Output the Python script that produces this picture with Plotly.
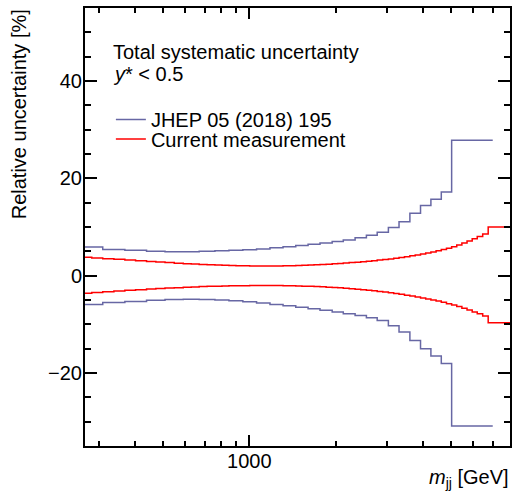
import plotly.graph_objects as go

# JHEP 05 (2018) 195 binning and total systematic uncertainty [%]
jhep_edges = [260, 310, 370, 440, 510, 590, 670, 760, 850, 950, 1060, 1180, 1310, 1450,
              1600, 1760, 1940, 2120, 2330, 2550, 2780, 3040, 3310, 3610, 3930, 4270,
              4640, 5040, 7000]
jhep_up = [5.9, 5.4, 5.2, 5.0, 4.9, 4.9, 5.0, 5.1, 5.2, 5.35, 5.5, 5.75, 5.95, 6.2,
           6.45, 6.7, 7.0, 7.35, 7.8, 8.3, 8.9, 9.9, 11.1, 12.8, 14.4, 15.7, 17.2, 27.8]
jhep_down = [-5.95, -5.5, -5.3, -5.05, -4.9, -4.85, -4.9, -5.0, -5.15, -5.35, -5.6, -5.9,
             -6.2, -6.5, -6.8, -7.1, -7.45, -7.85, -8.2, -8.65, -9.2, -10.3, -11.6,
             -13.3, -15.0, -16.5, -18.05, -30.9]

# Current measurement binning and total systematic uncertainty [%]
cur_edges = [260, 284, 310, 339, 370, 403, 440, 474, 510, 549,
             590, 629, 670, 714, 760, 804, 850, 899, 950, 1003,
             1060, 1118, 1180, 1243, 1310, 1378, 1450, 1523, 1600, 1678,
             1760, 1848, 1940, 2028, 2120, 2222, 2330, 2437, 2550, 2662,
             2780, 2906, 3040, 3172, 3310, 3457, 3610, 3767, 3930, 4096,
             4270, 4451, 4640, 4836, 5040, 5250, 5470, 5700, 5940, 6185,
             6460, 6750, 9000]
cur_up = [3.8, 3.65, 3.5, 3.35, 3.2, 3.05, 2.9, 2.8, 2.68, 2.57,
          2.47, 2.38, 2.3, 2.23, 2.17, 2.12, 2.08, 2.05, 2.03, 2.01,
          2.0, 2.0, 2.0, 2.01, 2.03, 2.06, 2.1, 2.14, 2.19, 2.24,
          2.3, 2.37, 2.44, 2.52, 2.6, 2.69, 2.78, 2.88, 2.98, 3.08,
          3.2, 3.32, 3.45, 3.59, 3.74, 3.9, 4.07, 4.25, 4.45, 4.66,
          4.88, 5.12, 5.38, 5.65, 5.95, 6.3, 6.7, 7.1, 7.6, 8.07,
          8.55, 10.0]
cur_down = [-3.6, -3.45, -3.3, -3.15, -3.0, -2.88, -2.76, -2.65, -2.55, -2.46,
            -2.38, -2.31, -2.25, -2.2, -2.16, -2.12, -2.09, -2.07, -2.05, -2.04,
            -2.03, -2.03, -2.03, -2.04, -2.06, -2.09, -2.12, -2.16, -2.2, -2.25,
            -2.3, -2.36, -2.43, -2.5, -2.58, -2.67, -2.77, -2.88, -3.0, -3.12,
            -3.25, -3.38, -3.52, -3.67, -3.83, -4.0, -4.18, -4.37, -4.57, -4.78,
            -5.0, -5.23, -5.48, -5.75, -6.05, -6.35, -6.7, -7.05, -7.45, -7.85,
            -8.3, -9.7]

x_minor = [300, 400, 500, 600, 700, 800, 900, 2000, 3000, 4000, 5000, 6000, 7000, 8000]

BLUE = "#6767a4"
RED = "#ff0000"
FONT = "Liberation Sans, Arial, Helvetica, sans-serif"

W, H = 513, 494
L, R, T, B = 85, 1, 8, 48
PW, PH = W - L - R, H - T - B


def px_x(p):
    return (p - L) / PW


def px_y(p):
    return (H - B - p) / PH


fig = go.Figure()

fig.add_trace(go.Scatter(x=jhep_edges, y=jhep_up + [jhep_up[-1]], mode="lines",
                         line=dict(color=BLUE, width=1.5, shape="hv"),
                         name="JHEP 05 (2018) 195", legendgroup="jhep",
                         legend="legend", hoverinfo="skip"))
fig.add_trace(go.Scatter(x=jhep_edges, y=jhep_down + [jhep_down[-1]], mode="lines",
                         line=dict(color=BLUE, width=1.5, shape="hv"),
                         name="JHEP 05 (2018) 195", legendgroup="jhep",
                         showlegend=False, hoverinfo="skip"))
fig.add_trace(go.Scatter(x=cur_edges, y=cur_up + [cur_up[-1]], mode="lines",
                         line=dict(color=RED, width=1.5, shape="hv"),
                         name="Current measurement", legendgroup="cur",
                         legend="legend2", hoverinfo="skip"))
fig.add_trace(go.Scatter(x=cur_edges, y=cur_down + [cur_down[-1]], mode="lines",
                         line=dict(color=RED, width=1.5, shape="hv"),
                         name="Current measurement", legendgroup="cur",
                         showlegend=False, hoverinfo="skip"))

axis_common = dict(showline=True, linecolor="black", linewidth=2, mirror="allticks",
                   ticks="inside", tickcolor="black", tickwidth=1.5,
                   showgrid=False, zeroline=False,
                   tickfont=dict(family=FONT, size=20, color="black"))

fig.update_layout(
    width=W, height=H,
    margin=dict(l=L, r=R, t=T, b=B, pad=0),
    paper_bgcolor="white", plot_bgcolor="white",
    font=dict(family=FONT, size=20, color="black"),
    xaxis=dict(type="log", range=[2.4298, 3.905],
               tickmode="array", tickvals=[1000], ticktext=["1000"], ticklen=11,
               ticklabelstandoff=-4,
               minor=dict(tickmode="array", tickvals=x_minor, ticks="inside",
                          ticklen=5, tickcolor="black", tickwidth=1.5),
               **axis_common),
    yaxis=dict(range=[-35, 55], tickmode="linear", tick0=0, dtick=20, ticklen=12,
               ticklabelstandoff=-3,
               minor=dict(tick0=0, dtick=5, ticks="inside", ticklen=6,
                          tickcolor="black", tickwidth=1.5),
               **axis_common),
    legend=dict(x=px_x(111), y=px_y(119.5), xanchor="left", yanchor="middle",
                bgcolor="rgba(0,0,0,0)", font=dict(family=FONT, size=20)),
    legend2=dict(x=px_x(111), y=px_y(139), xanchor="left", yanchor="middle",
                 bgcolor="rgba(0,0,0,0)", font=dict(family=FONT, size=20)),
    annotations=[
        dict(text="Total systematic uncertainty", xref="paper", yref="paper",
             x=px_x(111), y=px_y(52), xanchor="left", yanchor="middle",
             showarrow=False, font=dict(family=FONT, size=20)),
        dict(text="<i>y</i>* < 0.5", xref="paper", yref="paper",
             x=px_x(111), y=px_y(74), xanchor="left", yanchor="middle",
             showarrow=False, font=dict(family=FONT, size=20)),
        dict(text="Relative uncertainty [%]", xref="paper", yref="paper",
             x=px_x(19), y=px_y(7), xanchor="center", yanchor="top", textangle=-90,
             showarrow=False, font=dict(family=FONT, size=20)),
        dict(text="<i>m</i><sub>jj</sub> [GeV]", xref="paper", yref="paper",
             x=px_x(513), y=px_y(478), xanchor="right", yanchor="middle",
             showarrow=False, font=dict(family=FONT, size=20)),
    ],
)

fig.write_html("out.html")
